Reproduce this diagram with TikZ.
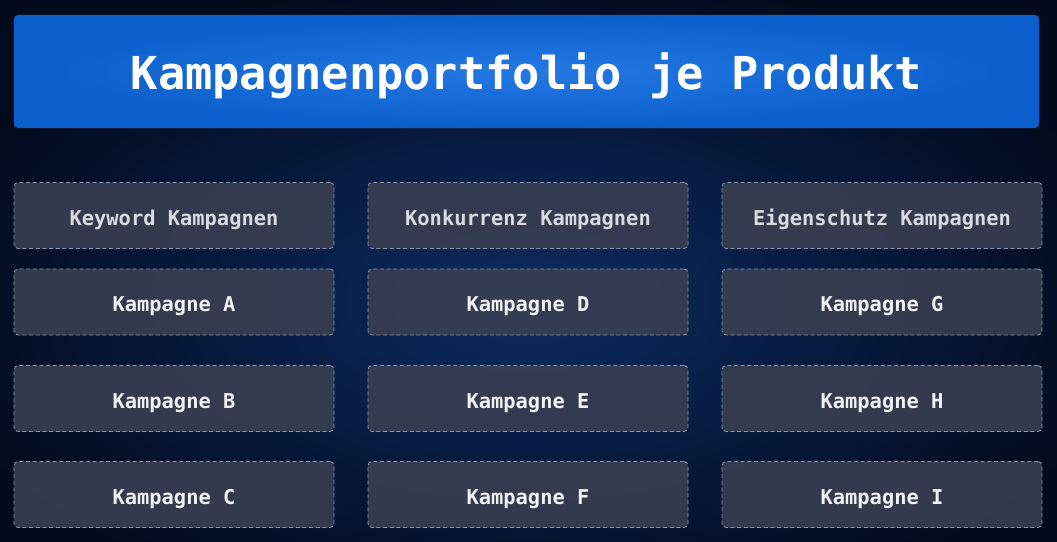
\documentclass[tikz,border=0pt]{standalone}
\usepackage{fontspec}
\setmonofont{DejaVu Sans Mono}
\usetikzlibrary{positioning}
\definecolor{bgdark}{HTML}{030A1C}
\definecolor{bgglow}{HTML}{0B2C62}
\definecolor{titleblue}{HTML}{0A5FCC}
\definecolor{titleglow}{HTML}{2478E2}
\definecolor{cellfill}{HTML}{383E51}
\definecolor{cellline}{HTML}{8D96AC}
\definecolor{headtext}{HTML}{D9DBE0}
\definecolor{celltext}{HTML}{F2F2F4}
\tikzset{
  px/.style={x=0.75pt,y=-0.75pt},
  cellbox/.style={draw=cellline, fill=cellfill, fill opacity=0.92, text opacity=1,
    dashed, dash pattern=on 3pt off 2pt, line width=0.6pt, rounded corners=3pt,
    minimum width=240pt, minimum height=49.5pt, inner sep=0pt,
    text height=15pt, text depth=0.5pt,
    font=\ttfamily\bfseries\fontsize{15.3}{18}\selectfont, text=celltext},
  headbox/.style={cellbox, text=headtext},
}
\begin{document}
\begin{tikzpicture}[px]
\useasboundingbox (0,0) rectangle (1057,542);
\fill[bgdark] (0,0) rectangle (1057,542);
\shade[inner color=bgglow, outer color=bgdark] (528,300) ellipse (620 and 330);
% title
\shade[rounded corners=3pt, inner color=titleglow, outer color=titleblue] (14,15) rectangle (1039,128);
\node[font=\ttfamily\bfseries\fontsize{34}{40}\selectfont, text=white] (title) at (526.5,76) {Kampagnenportfolio je Produkt};
% column 1
\node[headbox] (h1) at (174,215.5) {Keyword Kampagnen};
\node[cellbox] (a) at (174,302) {Kampagne A};
\node[cellbox] (b) at (174,398.5) {Kampagne B};
\node[cellbox] (c) at (174,494.5) {Kampagne C};
% column 2
\node[headbox] (h2) at (528,215.5) {Konkurrenz Kampagnen};
\node[cellbox] (d) at (528,302) {Kampagne D};
\node[cellbox] (e) at (528,398.5) {Kampagne E};
\node[cellbox] (f) at (528,494.5) {Kampagne F};
% column 3
\node[headbox] (h3) at (882,215.5) {Eigenschutz Kampagnen};
\node[cellbox] (g) at (882,302) {Kampagne G};
\node[cellbox] (h) at (882,398.5) {Kampagne H};
\node[cellbox] (i) at (882,494.5) {Kampagne I};
\end{tikzpicture}
\end{document}
